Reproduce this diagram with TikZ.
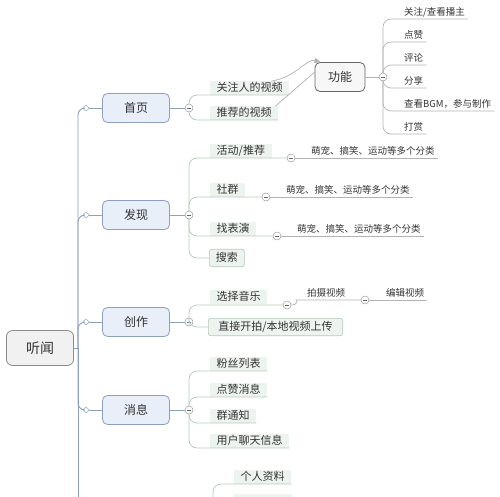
\documentclass[tikz,border=0pt]{standalone}
\usepackage{fontspec}
\setmainfont{Noto Sans CJK SC}
\usetikzlibrary{arrows.meta}
\definecolor{spinec}{HTML}{8DA0BD}
\definecolor{topicfill}{HTML}{E9EFF8}
\definecolor{rootfill}{HTML}{F1F1F1}
\definecolor{rootline}{HTML}{8C8C8C}
\definecolor{leaffill}{HTML}{EDF3EE}
\definecolor{leafline}{HTML}{B6CDB9}
\definecolor{grayline}{HTML}{B3B3B3}
\definecolor{textc}{HTML}{333333}
\tikzset{
  every node/.style={
    text=textc,
    inner sep=2pt
  },
  root/.style={draw=rootline, fill=rootfill, line width=0.8pt, rounded corners=6pt,
    minimum width=67pt, minimum height=35pt, font=\fontsize{14}{16}\selectfont},
  topic/.style={draw=spinec, fill=topicfill, line width=0.8pt, rounded corners=5pt,
    minimum width=67pt, minimum height=29pt, font=\fontsize{12}{14}\selectfont},
  func/.style={draw=black!60, fill=black!3, line width=0.8pt, rounded corners=5pt,
    minimum width=50pt, minimum height=29pt, font=\fontsize{12}{14}\selectfont},
  leaf/.style={fill=leaffill, anchor=south west, inner xsep=6.5pt, inner ysep=1pt,
    text height=9.5pt, text depth=2pt, font=\fontsize{11}{13}\selectfont},
  boxleaf/.style={leaf, draw=leafline, line width=0.7pt, rounded corners=2.5pt, inner ysep=3pt},
  note/.style={anchor=south west, inner xsep=3pt, inner ysep=1.5pt,
    text height=8pt, text depth=1.5pt, font=\fontsize{9.5}{11}\selectfont},
  fold/.style={circle, draw=black!40, fill=white, line width=0.5pt, minimum size=8pt, inner sep=0pt,
    path picture={\draw[black!60, line width=0.5pt]
      ([xshift=-2pt]path picture bounding box.center) -- ([xshift=2pt]path picture bounding box.center);}},
  dot/.style={circle, draw=spinec, fill=white, line width=0.5pt, minimum size=5pt, inner sep=0pt},
  spine/.style={draw=spinec, line width=0.9pt, rounded corners=7pt},
  twig/.style={draw=leafline, line width=0.8pt, rounded corners=8pt},
  gtwig/.style={draw=grayline, line width=0.7pt, rounded corners=8pt},
  rel/.style={draw=black!30, line width=0.7pt}
}

\begin{document}
\begin{tikzpicture}[x=1pt,y=-1pt]
    \useasboundingbox (0,0) rectangle (500,496);
    \clip (0,0) rectangle (500,496);

    % 中心主题
    \node[root] (r) at (40,348) {听闻};
    \coordinate (sp) at (78,348);
    \coordinate (sp end) at (78,520);
    \draw[spine] (r.east) -- (sp);
    \draw[spine] (sp) -- (sp end);

    % 一级分支
    \node[topic] (t1) at (136,108) {首页};
    \node[topic] (t2) at (136,215) {发现};
    \node[topic] (t3) at (136,322) {创作};
    \node[topic] (t4) at (136,410) {消息};
    \foreach \i/\y in {1/108,2/215,3/322,4/410} {
        \node[dot] (d\i) at (86,\y) {};
        \node[fold] (f\i) at (189,\y) {};
        \draw[spine] (sp) |- (d\i.west);
        \draw[spine] (d\i.east) -- (t\i.west);
        \draw[spine] (t\i.east) -- (f\i.west);
    }

    % 首页
    \node[leaf] (a1) at (210,95) {关注人的视频};
    \node[leaf] (a2) at (210,120) {推荐的视频};
    \draw[twig] (f1.north) |- (a1.south east);
    \draw[twig] (f1.south) |- (a2.south east);

    % 功能
    \node[func] (gn) at (340,77) {功能};
    \node[fold] (g0) at (383,77) {};
    \draw[gtwig] (gn.east) -- (g0.west);
    \draw[rel,-{Triangle[length=6pt,width=5pt]}] ([xshift=-18pt]a1.north east)
        .. controls +(25,-4) and +(-14,-4) .. ([xshift=6pt]gn.north west);
    \draw[rel] ([xshift=-3pt]a2.north east) -- ([yshift=-10pt]gn.north west);
    \node[note] (g1) at (401,19) {关注/查看播主};
    \node[note] (g2) at (401,42) {点赞};
    \node[note] (g3) at (401,65) {评论};
    \node[note] (g4) at (401,88) {分享};
    \node[note] (g5) at (401,111) {查看BGM，参与制作};
    \node[note] (g6) at (401,134) {打赏};
    \foreach \i in {1,2,3} \draw[gtwig] (g0.north) |- (g\i.south east);
    \foreach \i in {4,5,6} \draw[gtwig] (g0.south) |- (g\i.south east);

    % 发现
    \node[leaf] (b1) at (210,158) {活动/推荐};
    \node[leaf] (b2) at (210,197) {社群};
    \node[leaf] (b3) at (210,236) {找表演};
    \node[boxleaf,anchor=west] (b4) at (209,258) {搜索};
    \node[fold] (fb1) at (291,158) {};
    \node[fold] (fb2) at (266,197) {};
    \node[fold] (fb3) at (277,236) {};
    \draw[twig] (f2.north) |- (fb1.west);
    \draw[twig] (f2.north) |- (fb2.west);
    \draw[twig] (f2.south) |- (fb3.west);
    \draw[twig] (f2.south) |- (b4.west);
    \foreach \i in {1,2,3} {
        \node[note] (nb\i) at ([xshift=17pt]fb\i.center) {萌宠、搞笑、运动等多个分类};
        \draw[gtwig] (fb\i.east) -- (nb\i.south east);
    }

    % 创作
    \node[leaf] (c1) at (210,304) {选择音乐};
    \node[boxleaf,anchor=west,inner xsep=10pt] (c2) at (208,327) {直接开拍/本地视频上传};
    \node[fold] (fc1) at (287,305) {};
    \node[note] (nc1) at (304,300) {拍摄视频};
    \node[fold] (fc2) at (365,300) {};
    \node[note] (nc2) at (383,300) {编辑视频};
    \draw[twig] (f3.north) |- (fc1.west);
    \draw[twig] (f3.south) |- (c2.west);
    \draw[gtwig] (fc1.east) .. controls +(7,0) and +(-7,0) .. (nc1.south west) -- (fc2.west);
    \draw[gtwig] (fc2.east) -- (nc2.south east);

    % 消息
    \node[leaf] (e1) at (210,371) {粉丝列表};
    \node[leaf] (e2) at (210,397) {点赞消息};
    \node[leaf] (e3) at (210,423) {群通知};
    \node[leaf] (e4) at (210,448) {用户聊天信息};
    \draw[twig] (f4.north) |- (e1.south east);
    \draw[twig] (f4.north) |- (e2.south east);
    \draw[twig] (f4.south) |- (e3.south east);
    \draw[twig] (f4.south) |- (e4.south east);

    % 下一分支（被截断）
    \node[leaf] (p1) at (234,484) {个人资料};
    \coordinate (p0) at (213,510);
    \draw[twig] (p0) |- (p1.south east);
    \fill[leaffill] (234,494) rectangle (292,500);

\end{tikzpicture}
\end{document}
